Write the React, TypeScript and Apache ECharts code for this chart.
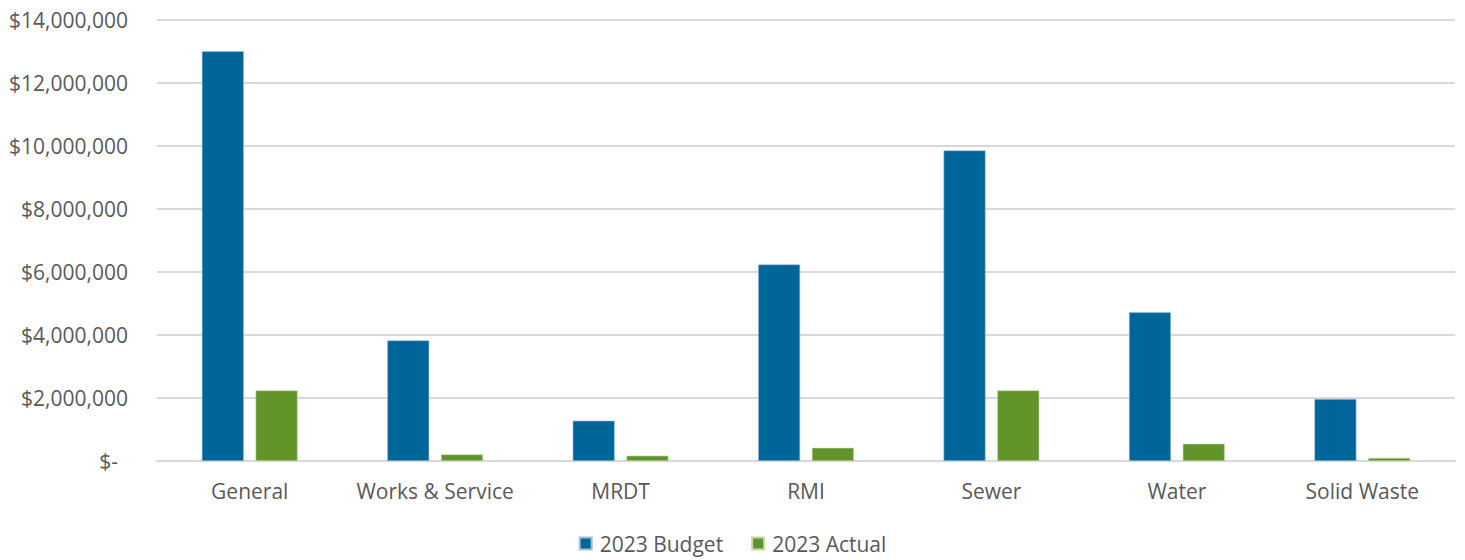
import React, { useEffect, useRef } from "react";
import * as echarts from "echarts";

const categories = ["General", "Works & Service", "MRDT", "RMI", "Sewer", "Water", "Solid Waste"];
const budget2023 = [13010000, 3830000, 1280000, 6240000, 9860000, 4720000, 1970000];
const actual2023 = [2240000, 210000, 170000, 420000, 2240000, 550000, 100000];
const seriesNames = ["2023 Budget", "2023 Actual"];

const FONT = "Open Sans";
const FS = 21;
const TEXT = "#595959";

function fmt(v: number): string {
  if (v === 0) return "{z|$-}";
  return "$" + v.toLocaleString("en-US");
}

export default function App() {
  const ref = useRef<HTMLDivElement>(null);
  useEffect(() => {
    const chart = echarts.init(ref.current!, null, { renderer: "svg" });
    chart.setOption({
      animation: false,
      backgroundColor: "#ffffff",
      textStyle: { fontFamily: FONT },
      grid: { left: 157, right: 10, top: 20, bottom: 99, containLabel: false },
      legend: {
        bottom: 1,
        left: "center",
        itemWidth: 12,
        itemHeight: 12,
        itemGap: 28,
        icon: "rect",
        textStyle: { color: TEXT, fontSize: FS, fontFamily: FONT, padding: [0, 0, 0, 3] },
        data: seriesNames,
      },
      xAxis: {
        type: "category",
        data: categories,
        axisLine: { lineStyle: { color: "#d9d9d9", width: 2 } },
        axisTick: { show: false },
        axisLabel: { color: TEXT, fontSize: FS, fontFamily: FONT, margin: 19, interval: 0, hideOverlap: false },
      },
      yAxis: {
        type: "value",
        min: 0,
        max: 14000000,
        interval: 2000000,
        axisLine: { show: false },
        axisTick: { show: false },
        splitLine: { lineStyle: { color: "#d9d9d9", width: 2 } },
        axisLabel: {
          color: TEXT,
          fontSize: FS,
          fontFamily: FONT,
          margin: 29,
          formatter: fmt,
          rich: { z: { color: TEXT, fontSize: FS, fontFamily: FONT, padding: [0, 10, 0, 0] } },
        },
      },
      series: [
        {
          name: seriesNames[0],
          type: "bar",
          data: budget2023,
          barWidth: 42,
          barGap: "28%",
          itemStyle: { color: "#006699", borderColor: "#9cc3dc", borderWidth: 0.6 },
        },
        {
          name: seriesNames[1],
          type: "bar",
          data: actual2023,
          barWidth: 42,
          barGap: "28%",
          itemStyle: { color: "#62942a", borderColor: "#c2dba6", borderWidth: 0.6 },
        },
      ],
    });
    return () => chart.dispose();
  }, []);
  return (
    <div
      ref={ref}
      style={{ position: "absolute", left: 0, top: 0, width: 1465, height: 560 }}
    />
  );
}
